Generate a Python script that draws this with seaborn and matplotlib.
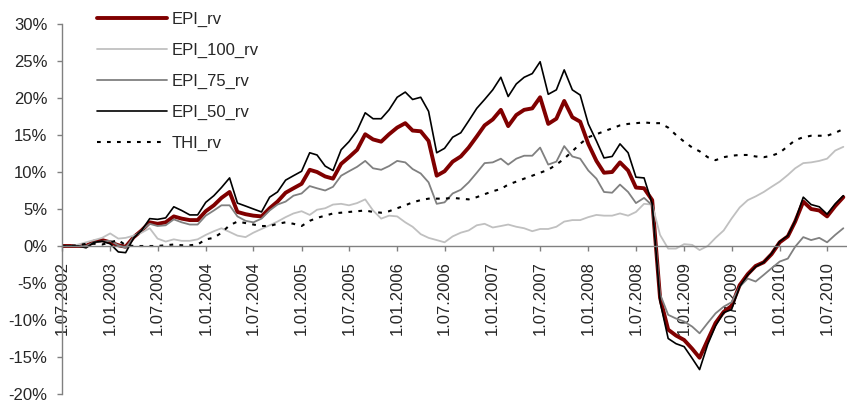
import pandas as pd
import matplotlib
matplotlib.use('Agg')
import matplotlib.pyplot as plt
import matplotlib.dates as mdates
from matplotlib.ticker import FuncFormatter, MultipleLocator
import seaborn as sns

# monthly observations, Jul 2002 .. Sep 2010 (values in %)
dates = pd.date_range('2002-07-01', periods=99, freq='MS')

epi_rv = [0, 0, 0, 0, 0.6, 0.8, 0.5, 0.1, -0.1, 1.2,
          2.1, 3.2, 3.0, 3.2, 4.0, 3.7, 3.5, 3.5, 4.7, 5.5,
          6.5, 7.3, 4.6, 4.3, 4.1,
          4.0, 5.1, 6.0, 7.2, 7.8, 8.4, 10.3, 10.0, 9.4, 9.1,
          11.1, 12.0, 13.0, 15.1, 14.4, 14.1, 15.1, 16.0, 16.6, 15.6,
          15.5, 14.2, 9.5, 10.1,
          11.4, 12.1, 13.3, 14.8, 16.3, 17.1, 18.4, 16.2, 17.7, 18.4,
          18.6, 20.1, 16.5, 17.2, 19.6, 17.4, 16.8, 13.8, 11.5, 9.9,
          10.0, 11.3, 10.2, 7.9,
          7.8, 6.2, -7.0, -11.3, -12.1, -12.7, -13.9, -15.1, -12.7, -10.4,
          -8.9, -8.1, -5.3, -3.8, -2.7, -2.2, -1.1, 0.5, 1.3, 3.3,
          6.0, 5.0, 4.8, 4.0, 5.4, 6.6]

epi_100 = [0, 0, 0.2, 0.5, 0.8, 1.1, 1.7, 1.0, 1.1, 1.4,
           1.8, 2.4, 1.0, 0.6, 0.9, 0.7, 0.7, 0.9, 1.5, 2.0,
           2.4, 1.9, 1.4, 1.2, 1.8,
           2.3, 2.8, 3.3, 3.9, 4.4, 4.7, 4.2, 4.9, 5.1, 5.6,
           5.7, 5.5, 5.8, 6.3, 4.8, 3.7, 4.1, 4.0, 3.2, 2.6,
           1.6, 1.1, 0.8, 0.5,
           1.3, 1.8, 2.1, 2.8, 3.0, 2.5, 2.7, 2.9, 2.6, 2.4,
           2.0, 2.3, 2.3, 2.6, 3.3, 3.5, 3.5, 3.9, 4.2, 4.1,
           4.1, 4.4, 4.1, 4.6,
           5.7, 5.6, 1.5, -0.35, -0.35, 0.25, 0.15, -0.55, 0.0, 1.1,
           2.1, 3.7, 5.2, 6.2, 6.7, 7.3, 8.0, 8.7, 9.6, 10.5,
           11.2, 11.3, 11.5, 11.8, 12.9, 13.4]

epi_75 = [0, 0, 0, 0, 0.5, 0.6, 0.7, 0.1, -0.25, 1.2,
          2.1, 3.0, 2.7, 2.8, 3.6, 3.2, 2.9, 2.9, 4.1, 4.8,
          5.5, 5.5, 4.0, 3.4, 3.2,
          3.7, 4.8, 5.6, 6.0, 6.8, 7.1, 8.1, 7.8, 7.5, 8.0,
          9.5, 10.1, 10.7, 11.5, 10.5, 10.3, 10.8, 11.5, 11.3, 10.4,
          9.8, 8.6, 5.7, 5.9,
          7.1, 7.6, 8.6, 9.9, 11.2, 11.3, 11.8, 11.0, 11.8, 12.2,
          12.2, 13.3, 11.0, 11.4, 13.5, 12.1, 11.8, 10.2, 9.1, 7.3,
          7.2, 8.3, 7.3, 5.8,
          6.5, 5.5, -6.5, -9.3, -9.8, -10.2, -10.9, -11.8, -10.4, -9.1,
          -8.2, -7.6, -5.5, -4.4, -4.8, -3.9, -3.0, -2.1, -1.7, -0.1,
          1.2, 0.8, 1.1, 0.5, 1.5, 2.4]

epi_50 = [0, 0, 0, -0.25, 0.5, 0.65, 0.3, -0.8, -0.9, 1.1,
          2.1, 3.7, 3.6, 3.8, 5.3, 4.8, 4.2, 4.2, 5.9, 6.8,
          7.9, 9.2, 5.8, 5.4, 5.0,
          4.6, 6.6, 7.3, 8.9, 9.5, 10.1, 12.6, 12.3, 10.8, 10.2,
          13.0, 14.1, 15.6, 18.0, 17.2, 17.2, 18.4, 20.1, 20.8, 19.8,
          20.1, 18.2, 12.6, 13.2,
          14.7, 15.3, 16.9, 18.6, 19.8, 21.1, 22.8, 20.2, 21.9, 22.8,
          23.3, 24.9, 20.5, 21.1, 23.8, 21.1, 20.4, 16.5, 14.2, 11.9,
          12.1, 13.8, 12.6, 9.3,
          9.2, 5.7, -7.5, -12.5, -13.2, -13.6, -15.2, -16.7, -13.3, -10.8,
          -9.0, -8.6, -5.5, -3.9, -2.8, -2.2, -1.0, 0.6, 1.4, 3.4,
          6.6, 5.6, 5.3, 4.3, 5.7, 6.8]

thi = [0, 0, 0.1, 0.3, 0.3, 0.2, 0.5, 0.8, 0.1, 0.0,
       0.0, 0.0, 0.0, 0.1, 0.2, 0.1, 0.1, 0.2, 0.9, 1.1,
       1.8, 2.8, 3.3, 3.1, 2.9,
       2.7, 2.7, 3.0, 3.2, 3.0, 2.7, 3.4, 3.8, 4.1, 4.4,
       4.5, 4.6, 4.7, 4.8, 4.6, 4.5, 4.7, 5.1, 5.5, 5.9,
       6.2, 6.4, 6.4, 6.4,
       6.5, 6.4, 6.3, 6.6, 7.0, 7.4, 7.7, 8.3, 8.7, 9.1,
       9.5, 9.9, 10.3, 11.0, 11.8, 12.8, 13.8, 14.7, 15.1, 15.5,
       15.9, 16.3, 16.5, 16.6,
       16.7, 16.6, 16.6, 16.0, 15.0, 14.1, 13.3, 12.8, 12.0, 11.6,
       12.0, 12.2, 12.3, 12.3, 12.1, 12.0, 12.2, 12.6, 13.5, 14.3,
       14.7, 14.9, 14.9, 14.9, 15.3, 15.8]

series_names = ['EPI_rv', 'EPI_100_rv', 'EPI_75_rv', 'EPI_50_rv', 'THI_rv']

df = pd.DataFrame({
    'date': dates,
    'EPI_rv': epi_rv,
    'EPI_100_rv': epi_100,
    'EPI_75_rv': epi_75,
    'EPI_50_rv': epi_50,
    'THI_rv': thi,
})

styles = {
    'EPI_rv': dict(color='#800000', linewidth=2.8, linestyle='-'),
    'EPI_100_rv': dict(color='#c0c0c0', linewidth=1.3, linestyle='-'),
    'EPI_75_rv': dict(color='#808080', linewidth=1.3, linestyle='-'),
    'EPI_50_rv': dict(color='black', linewidth=1.2, linestyle='-'),
    'THI_rv': dict(color='black', linewidth=1.5, linestyle=(0, (1.8, 3))),
}

sns.set_style('white')
plt.rcParams['font.family'] = ['Liberation Sans', 'DejaVu Sans']
plt.rcParams['axes.unicode_minus'] = False

fig = plt.figure(figsize=(8.47, 4.03), dpi=100)
ax = fig.add_axes([62 / 847, 9 / 403, 1 - 62 / 847, 370 / 403])

for name in series_names:
    sns.lineplot(data=df, x='date', y=name, ax=ax, label=name, **styles[name])

ax.set_ylim(-20, 30)
ax.set_xlim(pd.Timestamp('2002-07-01'), pd.Timestamp('2010-09-15'))
ax.yaxis.set_major_locator(MultipleLocator(5))
ax.yaxis.set_major_formatter(FuncFormatter(lambda v, _: f'{v:.0f}%'))


def date_label(x, _):
    d = mdates.num2date(x)
    return f'{d.day}.{d.month:02d}.{d.year}'


ax.xaxis.set_major_locator(mdates.MonthLocator(bymonth=[1, 7]))
ax.xaxis.set_major_formatter(FuncFormatter(date_label))

ax.set_xlabel('')
ax.set_ylabel('')
ax.set_axisbelow(True)

for side in ['top', 'right']:
    ax.spines[side].set_visible(False)
ax.spines['bottom'].set_position(('data', 0))
for side in ['left', 'bottom']:
    ax.spines[side].set_color('#808080')
    ax.spines[side].set_linewidth(1.0)

ax.tick_params(axis='x', bottom=True, direction='out', length=3.6, width=1.0,
               color='#808080', pad=7, labelrotation=90, labelsize=12)
ax.tick_params(axis='y', left=True, direction='out', length=3.6, width=1.0,
               color='#808080', pad=7, labelsize=12)

ax.legend(loc='upper left', bbox_to_anchor=(97 / 847, 1 - 12 / 403),
          bbox_transform=fig.transFigure, frameon=False, fontsize=12,
          handlelength=4.2, handletextpad=0.25, labelspacing=0.95,
          borderpad=0, borderaxespad=0)

fig.savefig('out.png', dpi=100)
